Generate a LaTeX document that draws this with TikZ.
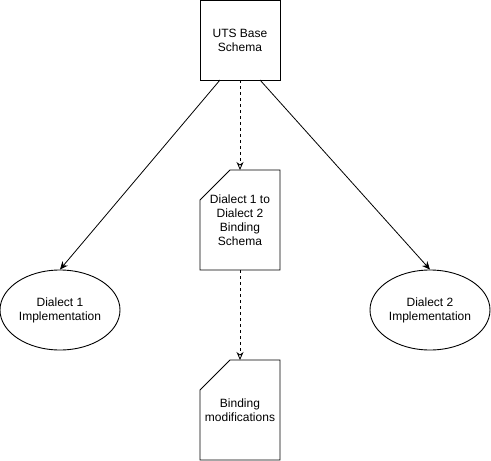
\documentclass[tikz,border=0pt]{standalone}
\usepackage{fontspec}
\setmainfont{Liberation Sans}
\usetikzlibrary{arrows.meta,shapes.geometric}
\begin{document}
\begin{tikzpicture}[x=1pt,y=-1pt,
  lbl/.style={align=center,font=\fontsize{12}{14}\selectfont,inner sep=0pt},
  shape line/.style={draw=black,line width=0.9pt,line join=miter},
  solidarrow/.style={draw=black,line width=0.8pt,-{Stealth[length=8pt,width=7pt,inset=2.5pt]}},
  dasharrow/.style={draw=black,line width=0.8pt,dash pattern=on 3pt off 3pt,-{Stealth[open,length=8pt,width=7pt,inset=2.5pt]}},
  ell/.style={ellipse,draw=black,line width=0.9pt,minimum width=120pt,minimum height=80pt,inner sep=0pt,align=center,font=\fontsize{12}{14}\selectfont}
]
\useasboundingbox (0,0) rectangle (491,461);
% top box
\node[draw=black,line width=0.9pt,minimum width=80pt,minimum height=80pt,inner sep=0pt,align=center,font=\fontsize{12}{14}\selectfont] (uts) at (240,40) {UTS Base\\Schema};
% card 1
\draw[shape line] (230,170) -- (280,170) -- (280,270) -- (200,270) -- (200,200) -- cycle;
\node[lbl] (bind) at (240,220) {Dialect 1 to\\Dialect 2\\Binding\\Schema};
\coordinate (bindtop) at (240,170);
\coordinate (bindbot) at (240,270);
% card 2
\draw[shape line] (230,360) -- (280,360) -- (280,460) -- (200,460) -- (200,390) -- cycle;
\node[lbl] (mod) at (240,410) {Binding\\modifications};
\coordinate (modtop) at (240,360);
% ellipses
\node[ell] (d1) at (60,310) {Dialect 1\\Implementation};
\node[ell] (d2) at (430,310) {Dialect 2\\Implementation};
% connectors
\coordinate (utsL) at (220,80);
\coordinate (utsR) at (260,80);
\coordinate (utsM) at (240,80);
\draw[solidarrow] (utsL) -- (d1.north);
\draw[solidarrow] (utsR) -- (d2.north);
\draw[dasharrow] (utsM) -- (bindtop);
\draw[dasharrow] (bindbot) -- (modtop);
\end{tikzpicture}
\end{document}
